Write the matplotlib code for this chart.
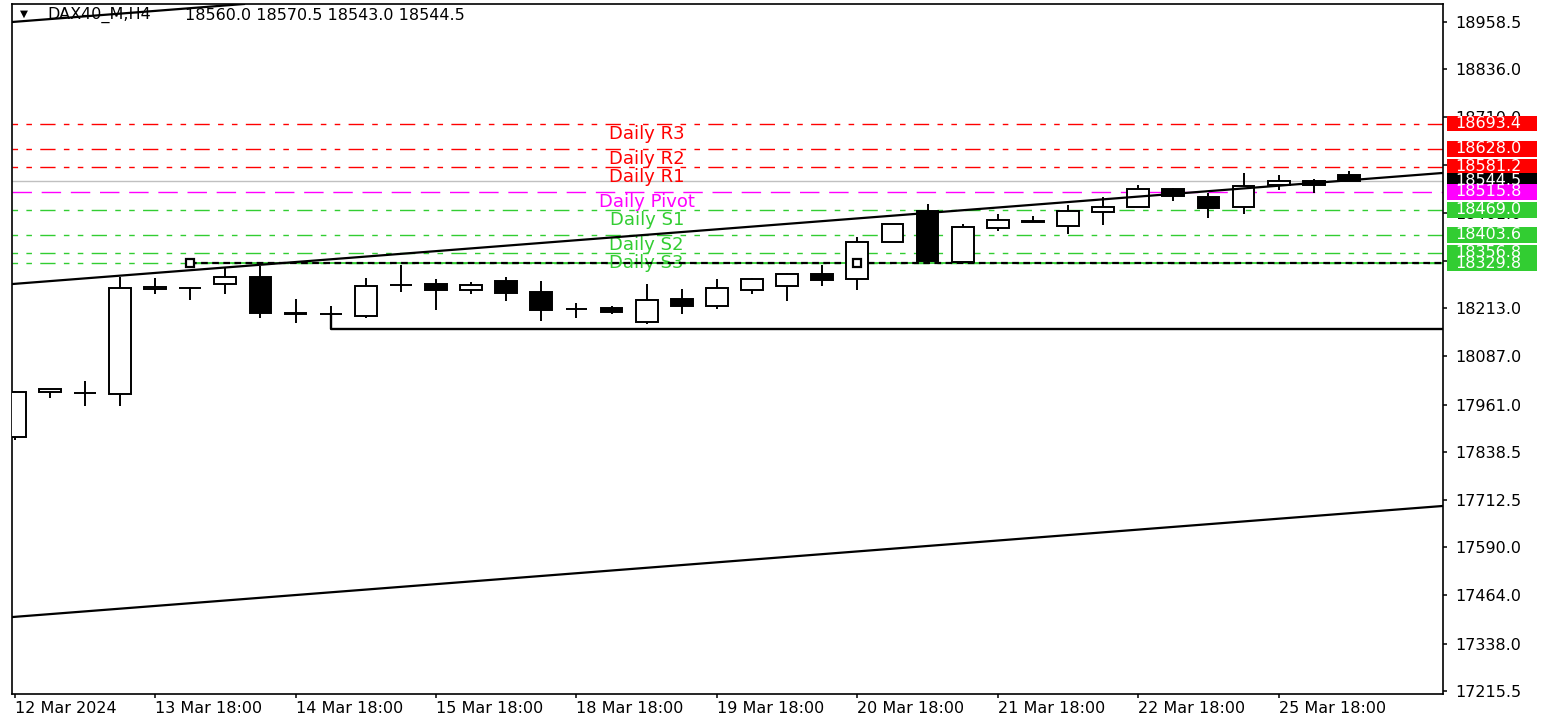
import numpy as np
import matplotlib
matplotlib.use("Agg")
import matplotlib.pyplot as plt
from matplotlib.patches import Rectangle
from matplotlib.transforms import blended_transform_factory

# DAX40 H4 candles, index 0 = 12 Mar 2024
opens = [17877, 17993, 17991, 17990, 18262, 18266, 18276, 18295, 18199, 18197,
         18192, 18273, 18276, 18261, 18284, 18254, 18210, 18213, 18176, 18236,
         18218, 18260, 18271, 18302, 18288, 18385, 18467, 18334, 18422, 18440,
         18427, 18464, 18476, 18522, 18503, 18476, 18534, 18544, 18560.0]
highs = [17997, 18001, 18023, 18293, 18292, 18267, 18318, 18323, 18236, 18219,
         18292, 18325, 18289, 18282, 18295, 18284, 18227, 18218, 18276, 18262,
         18289, 18290, 18304, 18325, 18398, 18432, 18484, 18431, 18458, 18454,
         18481, 18502, 18534, 18526, 18512, 18564, 18560, 18548, 18570.5]
lows = [17869, 17979, 17958, 17958, 18249, 18234, 18249, 18188, 18173, 18192,
        18186, 18254, 18208, 18249, 18230, 18180, 18188, 18197, 18171, 18197,
        18210, 18249, 18230, 18270, 18260, 18384, 18332, 18330, 18414, 18437,
        18406, 18429, 18475, 18493, 18447, 18458, 18521, 18514, 18543.0]
closes = [17994, 18001, 17991, 18265, 18269, 18265, 18295, 18199, 18198, 18197,
          18271, 18273, 18260, 18272, 18253, 18207, 18210, 18203, 18235, 18218,
          18266, 18288, 18302, 18286, 18386, 18431, 18335, 18424, 18442, 18438,
          18466, 18476, 18522, 18505, 18474, 18532, 18544, 18534, 18544.5]

tick_idx = [0, 4, 8, 12, 16, 20, 24, 28, 32, 36]
tick_text = ['12 Mar 2024', '13 Mar 18:00', '14 Mar 18:00', '15 Mar 18:00',
             '18 Mar 18:00', '19 Mar 18:00', '20 Mar 18:00', '21 Mar 18:00',
             '22 Mar 18:00', '25 Mar 18:00']
price_ticks = [17215.5, 17338.0, 17464.0, 17590.0, 17712.5, 17838.5, 17961.0,
               18087.0, 18213.0, 18336.0, 18461.0, 18585.5, 18710.0, 18836.0,
               18958.5]
hidden_ticks = [18336.0, 18585.5]   # fully covered by the price labels

# pivot levels
level_names = ['Daily R3', 'Daily R2', 'Daily R1', 'Daily Pivot',
               'Daily S1', 'Daily S2', 'Daily S3']
level_values = [18693.4, 18628.0, 18581.2, 18515.8, 18469.0, 18403.6, 18356.8]
level_colors = ['#FF0000', '#FF0000', '#FF0000', '#FF00FF',
                '#32CD32', '#32CD32', '#32CD32']
low_level = 18329.8          # green level with black dashed ray
ray_anchors = [5, 24]
bid = 18544.5
support_start = 9
support_level = 18157

# parallel channel: two anchor points per line (candle index, price)
channel_x = [0, 38]
channel_upper = [18959, 19229]
channel_mid = [18276, 18546]
channel_lower = [17408, 17678]

W, H = 1546, 716
fig = plt.figure(figsize=(W / 100, H / 100), dpi=100)
ax = fig.add_axes([12 / W, 1 - 694 / H, 1431 / W, 690 / H])
xmin, xmax = -0.077, 40.68
ymin, ymax = 17206.9, 19005.4
ax.set_xlim(xmin, xmax)
ax.set_ylim(ymin, ymax)
dpp = (ymax - ymin) / 690  # price per pixel

# candles
for i in range(len(opens)):
    o, h, l, c = opens[i], highs[i], lows[i], closes[i]
    ax.vlines(i, l, h, color='black', lw=1.4, zorder=3)
    fc = 'white' if c > o else 'black'
    ax.bar(i, abs(c - o), bottom=min(o, c), width=0.62, facecolor=fc,
           edgecolor='black', linewidth=1.4, zorder=3.5)

# horizontal levels
dashdotdot = (0, (4, 6, 4, 6, 11, 6))
for name, val, col in zip(level_names, level_values, level_colors):
    ls = (0, (14, 7)) if name == 'Daily Pivot' else dashdotdot
    ax.axhline(val, color=col, lw=1.0, linestyle=ls, zorder=2)
    ax.text(18, val - 10 * dpp, name, color=col, fontsize=13,
            ha='center', va='center', zorder=2.2)
ax.axhline(bid, color='#C0C0C0', lw=1.0, zorder=1.8)
ax.axhline(low_level, color='#32CD32', lw=1.0, linestyle=dashdotdot, zorder=2)
ax.plot([ray_anchors[0], xmax], [low_level, low_level], color='#32CD32', lw=1.3, zorder=2.1)
ax.plot([ray_anchors[0], xmax], [low_level, low_level], color='black', lw=1.6,
        linestyle=(0, (3, 2)), zorder=2.2)
ax.plot(ray_anchors, [low_level] * len(ray_anchors), 's', ms=6, mfc='white',
        mec='black', mew=1.6, zorder=6)

# support line
ax.plot([support_start, support_start, xmax],
        [closes[support_start], support_level, support_level],
        color='black', lw=1.7, zorder=4)

# channel
for line in (channel_upper, channel_mid, channel_lower):
    ax.axline((channel_x[0], line[0]), (channel_x[1], line[1]),
              color='black', lw=1.6, zorder=4)

# axes styling
for sp in ax.spines.values():
    sp.set_color('black')
    sp.set_linewidth(1.2)
ax.yaxis.tick_right()
ax.set_yticks(price_ticks)
ax.set_yticklabels(['' if v in hidden_ticks else f'{v:.1f}' for v in price_ticks])
ax.tick_params(axis='y', direction='out', length=3, width=1.1, pad=6,
               labelsize=11.5, colors='black')
ax.set_xticks(tick_idx)
ax.set_xticklabels(tick_text, ha='left')
ax.tick_params(axis='x', direction='out', length=3, width=1.1, pad=2,
               labelsize=11.5, colors='black')

# header
ax.text(20 / W, 1 - 14 / H, '\u25bc', transform=fig.transFigure, fontsize=7.5,
        ha='left', va='center', zorder=3)
ax.text(47 / W, 1 - 15 / H, 'DAX40_M,H4', transform=fig.transFigure,
        fontsize=11.5, ha='left', va='center', zorder=3)
ax.text(185 / W, 1 - 15 / H, '18560.0 18570.5 18543.0 18544.5',
        transform=fig.transFigure, fontsize=11.5, ha='left', va='center', zorder=3)

# price labels on the right scale
trans = blended_transform_factory(fig.transFigure, ax.transData)
box_vals = [low_level] + level_values[:3] + [bid] + level_values[3:]
box_cols = ['#32CD32'] + level_colors[:3] + ['black'] + level_colors[3:]
for val, col in zip(box_vals, box_cols):
    ax.add_patch(Rectangle((1447 / W, val - 7.75 * dpp), 90 / W, 15.5 * dpp,
                           transform=trans, facecolor=col, edgecolor='none',
                           clip_on=False, zorder=5))
    ax.text(1455 / W, val, f'{val:.1f}', transform=trans, color='white',
            fontsize=11.5, ha='left', va='center', clip_on=False, zorder=5.1)

fig.savefig('out.png', dpi=100)
